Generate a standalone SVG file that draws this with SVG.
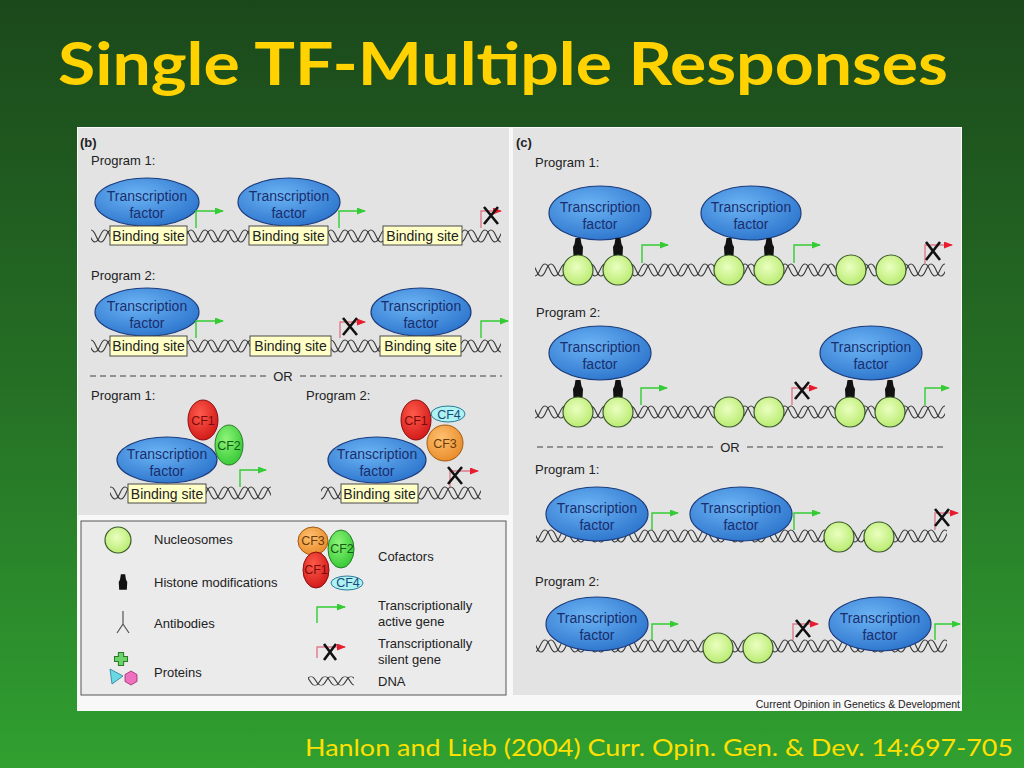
<svg xmlns="http://www.w3.org/2000/svg" width="1024" height="768" viewBox="0 0 1024 768">
<defs>
<linearGradient id="bg" x1="0" y1="0" x2="0" y2="1">
<stop offset="0" stop-color="#1b481b"/>
<stop offset="0.5" stop-color="#256f25"/>
<stop offset="1" stop-color="#30a030"/>
</linearGradient>
<radialGradient id="tfg" cx="0.4" cy="0.35" r="0.7">
<stop offset="0" stop-color="#6cb4f4"/>
<stop offset="1" stop-color="#2c74cc"/>
</radialGradient>
<radialGradient id="nug" cx="0.45" cy="0.4" r="0.65">
<stop offset="0" stop-color="#eaffc0"/>
<stop offset="1" stop-color="#b6ea6c"/>
</radialGradient>
<radialGradient id="cf1g" cx="0.4" cy="0.35" r="0.7">
<stop offset="0" stop-color="#ff5a4a"/>
<stop offset="1" stop-color="#d01818"/>
</radialGradient>
<radialGradient id="cf2g" cx="0.4" cy="0.35" r="0.7">
<stop offset="0" stop-color="#8ef47a"/>
<stop offset="1" stop-color="#34c834"/>
</radialGradient>
<radialGradient id="cf3g" cx="0.4" cy="0.35" r="0.7">
<stop offset="0" stop-color="#ffc070"/>
<stop offset="1" stop-color="#e88a28"/>
</radialGradient>
<pattern id="dna" patternUnits="userSpaceOnUse" x="0" y="-8" width="20" height="16">
<path d="M-20 8 Q-15 -4 -10 8 T0 8 T10 8 T20 8 T30 8 T40 8" fill="none" stroke="#3a3a3a" stroke-width="1.1"/>
<path d="M-14 8 Q-9 -4 -4 8 T6 8 T16 8 T26 8 T36 8" fill="none" stroke="#3a3a3a" stroke-width="1.1"/>
</pattern>
<marker id="ga" markerWidth="9" markerHeight="7" refX="8" refY="3.5" orient="auto" markerUnits="userSpaceOnUse">
<path d="M0,0 L9,3.5 L0,7 Z" fill="#33cc33"/>
</marker>
<marker id="ra" markerWidth="9" markerHeight="7" refX="8" refY="3.5" orient="auto" markerUnits="userSpaceOnUse">
<path d="M0,0 L9,3.5 L0,7 Z" fill="#e81c2c"/>
</marker>
<path id="hm" d="M-2.5 -9 L2.5 -9 L3.5 -3 L5 0 L4.5 9 L-4.5 9 L-5 0 L-3.5 -3 Z"/>
</defs>
<style>
.lbl{font-family:"Liberation Sans",Arial,sans-serif;font-size:13px;fill:#222}
.tft{font-family:"Liberation Sans",Arial,sans-serif;font-size:14px;fill:#1a2e6e;text-anchor:middle}
.bst{font-family:"Liberation Sans",Arial,sans-serif;font-size:14px;fill:#222;text-anchor:middle}
.cft{font-family:"Liberation Sans",Arial,sans-serif;font-size:12.5px;text-anchor:middle}
.tf{fill:url(#tfg);stroke:#1c3c7c;stroke-width:1.2}
.nuc{fill:url(#nug);stroke:#3a5a2a;stroke-width:1.2}
.box{fill:#ffffc6;stroke:#4a4a4a;stroke-width:1}
.act{fill:none;stroke:#33cc33;stroke-width:1.4;marker-end:url(#ga)}
.sil{fill:none;stroke:#e07a8a;stroke-width:1.4;marker-end:url(#ra)}
.x{stroke:#111;stroke-width:2.6;fill:none}
.dash{stroke:#777;stroke-width:1.3;stroke-dasharray:6 4}
.cf1{fill:url(#cf1g);stroke:#8a1010;stroke-width:1}
.cf2{fill:url(#cf2g);stroke:#2a7a2a;stroke-width:1}
.cf3{fill:url(#cf3g);stroke:#a05a10;stroke-width:1}
.cf4{fill:#aef2f2;stroke:#2a7a9a;stroke-width:1}
</style>
<rect x="0" y="0" width="1024" height="768" fill="url(#bg)"/>
<text x="58" y="85" font-family="'Comic Sans MS','Lato',sans-serif" font-weight="bold" font-size="60" fill="#ffd200" textLength="890" lengthAdjust="spacingAndGlyphs">Single TF-Multiple Responses</text>
<text x="305" y="756" font-family="'Comic Sans MS','Lato',sans-serif" font-size="24" fill="#ffe000" textLength="708" lengthAdjust="spacingAndGlyphs">Hanlon and Lieb (2004) Curr. Opin. Gen. &amp; Dev. 14:697-705</text>

<rect x="77" y="127" width="885" height="584" fill="#f8f8f8"/>
<rect x="78" y="128" width="431" height="387" fill="#e3e3e3"/>
<rect x="513" y="128" width="448" height="567" fill="#e3e3e3"/>
<text x="960" y="708" font-family="'Liberation Sans',Arial,sans-serif" font-size="10.5" fill="#222" text-anchor="end">Current Opinion in Genetics &amp; Development</text>

<!-- Panel b -->
<g id="panel-b">
<text class="lbl" x="80" y="147" font-weight="bold">(b)</text>
<text class="lbl" x="91" y="165">Program 1:</text>
<g transform="translate(0,236)"><rect x="91" y="-8" width="410" height="16" fill="url(#dna)"/></g>
<g id="b1-tf1"><ellipse class="tf" cx="147" cy="202" rx="52" ry="24"/><text class="tft" x="147" y="201">Transcription</text><text class="tft" x="147" y="218">factor</text></g>
<g id="b1-tf2"><ellipse class="tf" cx="289" cy="202" rx="51" ry="24"/><text class="tft" x="289" y="201">Transcription</text><text class="tft" x="289" y="218">factor</text></g>
<g id="b1-bs1"><rect class="box" x="110" y="226" width="77" height="19"/><text class="bst" x="148.5" y="241">Binding site</text></g>
<g id="b1-bs2"><rect class="box" x="249" y="226" width="79" height="19"/><text class="bst" x="288.5" y="241">Binding site</text></g>
<g id="b1-bs3"><rect class="box" x="383" y="226" width="79" height="19"/><text class="bst" x="422.5" y="241">Binding site</text></g>
<path class="act" d="M196 228 V211 H223"/>
<path class="act" d="M339 228 V211 H365"/>
<path class="sil" d="M481 228 V211 H501"/>
<path class="x" d="M484 207 L498 224 M498 207 L484 224"/>

<text class="lbl" x="91" y="280">Program 2:</text>
<g transform="translate(0,346)"><rect x="91" y="-8" width="410" height="16" fill="url(#dna)"/></g>
<g id="b2-tf1"><ellipse class="tf" cx="147" cy="312" rx="52" ry="24"/><text class="tft" x="147" y="311">Transcription</text><text class="tft" x="147" y="328">factor</text></g>
<g id="b2-tf2"><ellipse class="tf" cx="421" cy="312" rx="50" ry="24"/><text class="tft" x="421" y="311">Transcription</text><text class="tft" x="421" y="328">factor</text></g>
<g id="b2-bs1"><rect class="box" x="110" y="336" width="77" height="20"/><text class="bst" x="148.5" y="351">Binding site</text></g>
<g id="b2-bs2"><rect class="box" x="250" y="336" width="81" height="20"/><text class="bst" x="290.5" y="351">Binding site</text></g>
<g id="b2-bs3"><rect class="box" x="380" y="336" width="81" height="20"/><text class="bst" x="420.5" y="351">Binding site</text></g>
<path class="act" d="M196 338 V321 H223"/>
<path class="sil" d="M340 338 V322 H365"/>
<path class="x" d="M343 318 L357 335 M357 318 L343 335"/>
<path class="act" d="M481 338 V321 H508"/>

<line class="dash" x1="90" y1="376" x2="268" y2="376"/>
<text class="lbl" x="283" y="381" text-anchor="middle">OR</text>
<line class="dash" x1="300" y1="376" x2="502" y2="376"/>

<text class="lbl" x="91" y="400">Program 1:</text>
<text class="lbl" x="306" y="400">Program 2:</text>
<g transform="translate(0,493)"><rect x="110" y="-8" width="161" height="16" fill="url(#dna)"/><rect x="321" y="-8" width="160" height="16" fill="url(#dna)"/></g>
<g id="b3-p1">
<ellipse class="cf1" cx="203" cy="420" rx="15" ry="20"/><text class="cft" x="203" y="425" fill="#7a0a0a">CF1</text>
<ellipse class="cf2" cx="229" cy="445" rx="14" ry="20"/><text class="cft" x="229" y="450" fill="#145a14">CF2</text>
<ellipse class="tf" cx="167" cy="460" rx="50" ry="23"/><text class="tft" x="167" y="459">Transcription</text><text class="tft" x="167" y="476">factor</text>
<rect class="box" x="128" y="484" width="78" height="19"/><text class="bst" x="167" y="499">Binding site</text>
<path class="act" d="M240 487 V470 H266"/>
</g>
<g id="b3-p2">
<ellipse class="cf3" cx="445" cy="443" rx="18" ry="18"/><text class="cft" x="445" y="448" fill="#6a3a08">CF3</text>
<ellipse class="cf1" cx="416" cy="420" rx="15" ry="20"/><text class="cft" x="416" y="425" fill="#7a0a0a">CF1</text>
<ellipse class="cf4" cx="448" cy="414" rx="17" ry="8"/><text class="cft" x="449" y="419" fill="#1a4a7a">CF4</text>
<ellipse class="tf" cx="377" cy="460" rx="49" ry="23"/><text class="tft" x="377" y="459">Transcription</text><text class="tft" x="377" y="476">factor</text>
<rect class="box" x="341" y="484" width="77" height="19"/><text class="bst" x="379.5" y="499">Binding site</text>
<path class="sil" d="M450 487 V471 H478"/>
<path class="x" d="M448 467 L462 484 M462 467 L448 484"/>
</g>
</g>

<!-- Legend -->
<g id="legend">
<rect x="81" y="521" width="425" height="174" fill="#ebebeb" stroke="#555" stroke-width="1"/>
<circle class="nuc" cx="118" cy="540" r="13"/>
<text class="lbl" x="154" y="544">Nucleosomes</text>
<use href="#hm" transform="translate(123,582) scale(0.85)" fill="#111"/>
<text class="lbl" x="154" y="587">Histone modifications</text>
<path d="M123 611 V624 L117 633 M123 624 L129 633" fill="none" stroke="#555" stroke-width="1.2"/>
<text class="lbl" x="154" y="628">Antibodies</text>
<path d="M118 657 H121 V654 H125 V657 H128 V661 H125 V664 H121 V661 H118 Z" transform="translate(121,659) scale(1.3) translate(-123,-659)" fill="#6ad46a" stroke="#2a7a2a" stroke-width="0.8"/>
<polygon points="110,669 123,676 112,684" fill="#6ad8e0" stroke="#2a7a9a" stroke-width="0.8"/>
<polygon points="131,671 137,674.5 137,681.5 131,685 125,681.5 125,674.5" fill="#f070c0" stroke="#9a2a6a" stroke-width="0.8"/>
<text class="lbl" x="154" y="677">Proteins</text>
<g id="legend-cf">
<ellipse class="cf3" cx="313" cy="541" rx="15" ry="14"/><text class="cft" x="313" y="545" fill="#6a3a08">CF3</text>
<ellipse class="cf2" cx="341" cy="549" rx="13" ry="19"/><text class="cft" x="342" y="553" fill="#145a14">CF2</text>
<ellipse class="cf1" cx="316" cy="570" rx="13" ry="18"/><text class="cft" x="316" y="574" fill="#7a0a0a">CF1</text>
<ellipse class="cf4" cx="347" cy="583" rx="16" ry="7"/><text class="cft" x="348" y="587" fill="#1a4a7a">CF4</text>
</g>
<text class="lbl" x="378" y="561">Cofactors</text>
<path class="act" d="M317 623 V607 H345"/>
<text class="lbl" x="378" y="610">Transcriptionally</text>
<text class="lbl" x="378" y="626">active gene</text>
<path class="sil" d="M317 658 V647 H345"/>
<path class="x" d="M324 644 L336 660 M336 644 L324 660"/>
<text class="lbl" x="378" y="648">Transcriptionally</text>
<text class="lbl" x="378" y="664">silent gene</text>
<g transform="translate(0,681)"><rect x="308" y="-6" width="46" height="12" fill="url(#dna)" transform="scale(1,0.75)"/></g>
<text class="lbl" x="378" y="686">DNA</text>
</g>

<!-- Panel c -->
<g id="panel-c">
<text class="lbl" x="516" y="147" font-weight="bold">(c)</text>
<text class="lbl" x="535" y="167">Program 1:</text>
<g transform="translate(0,270)"><rect x="535" y="-8" width="410" height="16" fill="url(#dna)"/></g>
<g id="c1-tf1"><ellipse class="tf" cx="600" cy="213" rx="51" ry="27"/><text class="tft" x="600" y="212">Transcription</text><text class="tft" x="600" y="229">factor</text></g>
<g id="c1-tf2"><ellipse class="tf" cx="751" cy="213" rx="50" ry="27"/><text class="tft" x="751" y="212">Transcription</text><text class="tft" x="751" y="229">factor</text></g>
<g fill="#111"><use href="#hm" transform="translate(578,247)"/><use href="#hm" transform="translate(618,247)"/><use href="#hm" transform="translate(729,247)"/><use href="#hm" transform="translate(769,247)"/></g>
<g id="c1-nuc"><circle class="nuc" cx="578" cy="270" r="15"/><circle class="nuc" cx="618" cy="270" r="15"/><circle class="nuc" cx="729" cy="270" r="15"/><circle class="nuc" cx="769" cy="270" r="15"/><circle class="nuc" cx="851" cy="270" r="15"/><circle class="nuc" cx="891" cy="270" r="15"/></g>
<path class="act" d="M642 263 V245 H668"/>
<path class="act" d="M794 263 V245 H820"/>
<path class="sil" d="M925 263 V245 H952"/>
<path class="x" d="M926 242 L940 260 M940 242 L926 260"/>

<text class="lbl" x="536" y="317">Program 2:</text>
<g transform="translate(0,412)"><rect x="535" y="-8" width="410" height="16" fill="url(#dna)"/></g>
<g id="c2-tf1"><ellipse class="tf" cx="600" cy="353" rx="51" ry="27"/><text class="tft" x="600" y="352">Transcription</text><text class="tft" x="600" y="369">factor</text></g>
<g id="c2-tf2"><ellipse class="tf" cx="871" cy="353" rx="51" ry="27"/><text class="tft" x="871" y="352">Transcription</text><text class="tft" x="871" y="369">factor</text></g>
<g fill="#111"><use href="#hm" transform="translate(578,389)"/><use href="#hm" transform="translate(618,389)"/><use href="#hm" transform="translate(850,389)"/><use href="#hm" transform="translate(890,389)"/></g>
<g id="c2-nuc"><circle class="nuc" cx="578" cy="412" r="15"/><circle class="nuc" cx="618" cy="412" r="15"/><circle class="nuc" cx="729" cy="412" r="15"/><circle class="nuc" cx="769" cy="412" r="15"/><circle class="nuc" cx="850" cy="412" r="15"/><circle class="nuc" cx="890" cy="412" r="15"/></g>
<path class="act" d="M641 405 V388 H667"/>
<path class="sil" d="M792 405 V388 H817"/>
<path class="x" d="M795 382 L809 399 M809 382 L795 399"/>
<path class="act" d="M925 405 V388 H949"/>

<line class="dash" x1="537" y1="447" x2="713" y2="447"/>
<text class="lbl" x="730" y="452" text-anchor="middle">OR</text>
<line class="dash" x1="747" y1="447" x2="947" y2="447"/>

<text class="lbl" x="535" y="474">Program 1:</text>
<g transform="translate(0,536)"><rect x="536" y="-8" width="411" height="16" fill="url(#dna)"/></g>
<g id="c3-tf1"><ellipse class="tf" cx="597" cy="514" rx="51" ry="27"/><text class="tft" x="597" y="513">Transcription</text><text class="tft" x="597" y="530">factor</text></g>
<g id="c3-tf2"><ellipse class="tf" cx="741" cy="514" rx="51" ry="27"/><text class="tft" x="741" y="513">Transcription</text><text class="tft" x="741" y="530">factor</text></g>
<g id="c3-nuc"><circle class="nuc" cx="839" cy="537" r="15"/><circle class="nuc" cx="879" cy="537" r="15"/></g>
<path class="act" d="M652 530 V513 H678"/>
<path class="act" d="M794 530 V513 H820"/>
<path class="sil" d="M935 530 V513 H958"/>
<path class="x" d="M935 509 L949 526 M949 509 L935 526"/>

<text class="lbl" x="535" y="586">Program 2:</text>
<g transform="translate(0,646)"><rect x="536" y="-8" width="411" height="16" fill="url(#dna)"/></g>
<g id="c4-tf1"><ellipse class="tf" cx="597" cy="624" rx="51" ry="27"/><text class="tft" x="597" y="623">Transcription</text><text class="tft" x="597" y="640">factor</text></g>
<g id="c4-tf2"><ellipse class="tf" cx="880" cy="624" rx="51" ry="27"/><text class="tft" x="880" y="623">Transcription</text><text class="tft" x="880" y="640">factor</text></g>
<g id="c4-nuc"><circle class="nuc" cx="718" cy="648" r="15"/><circle class="nuc" cx="758" cy="648" r="15"/></g>
<path class="act" d="M652 640 V624 H678"/>
<path class="sil" d="M793 640 V624 H818"/>
<path class="x" d="M796 620 L810 637 M810 620 L796 637"/>
<path class="act" d="M935 640 V624 H960"/>
</g>
</svg>
